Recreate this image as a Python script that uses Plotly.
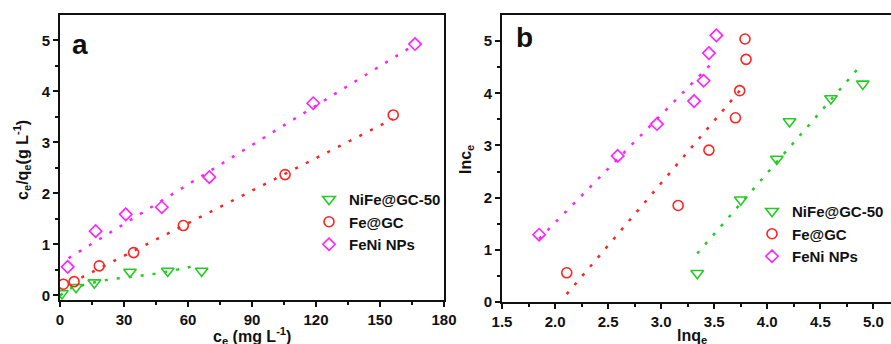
import plotly.graph_objects as go

W, H = 891, 344

# ---------- Panel a data ----------
a_nife_x = [0.9, 7.5, 16.1, 32.8, 50.5, 66.4]
a_nife_y = [0.04, 0.16, 0.25, 0.46, 0.48, 0.48]
a_fe_x = [1.6, 6.6, 18.4, 34.5, 57.8, 105.5, 156.2]
a_fe_y = [0.22, 0.27, 0.58, 0.84, 1.37, 2.37, 3.54]
a_feni_x = [3.6, 16.7, 30.8, 47.7, 70.0, 118.7, 166.4]
a_feni_y = [0.56, 1.26, 1.59, 1.73, 2.32, 3.77, 4.93]
# fit lines
a_nife_fit_x = [0, 5, 10.6, 21.4, 34.4, 45.3, 56.7, 62.5]
a_nife_fit_y = [0.0, 0.14, 0.20, 0.30, 0.37, 0.43, 0.52, 0.575]
a_fe_fit_x = [10, 156]
a_fe_fit_y = [0.35, 3.46]
a_feni_fit_x = [4, 166]
a_feni_fit_y = [0.73, 4.91]

# ---------- Panel b data ----------
b_nife_x = [3.34, 3.75, 4.09, 4.21, 4.60, 4.90]
b_nife_y = [0.55, 1.96, 2.74, 3.46, 3.90, 4.18]
b_fe_x = [2.11, 3.16, 3.45, 3.70, 3.74, 3.80, 3.79]
b_fe_y = [0.56, 1.85, 2.91, 3.53, 4.05, 4.65, 5.04]
b_feni_x = [1.85, 2.59, 2.96, 3.31, 3.40, 3.45, 3.52]
b_feni_y = [1.29, 2.80, 3.41, 3.85, 4.24, 4.77, 5.11]
b_nife_fit_x = [3.34, 4.85]
b_nife_fit_y = [0.93, 4.46]
b_fe_fit_x = [2.11, 3.77]
b_fe_fit_y = [0.15, 4.12]
b_feni_fit_x = [1.85, 3.47]
b_feni_fit_y = [1.21, 4.56]

names = ["NiFe@GC-50", "Fe@GC", "FeNi NPs"]
colors = ["#22CC22", "#FF2222", "#FF22FF"]
symbols = ["triangle-down-open", "circle-open", "diamond-open"]
sizes = [11, 10, 9.5]

FONT = "Liberation Sans"
fig = go.Figure()

def add_panel(xs, ys, fxs, fys, xa, ya, legend):
    for i in range(3):
        shape = "spline" if (legend == "legend" and i == 0) else "linear"
        fig.add_trace(go.Scatter(
            x=fxs[i], y=fys[i], mode="lines", xaxis=xa, yaxis=ya,
            line=dict(color=colors[i], width=2.5, dash="3px,9px", shape=shape),
            showlegend=False, hoverinfo="skip"))
    for i in range(3):
        fig.add_trace(go.Scatter(
            x=xs[i], y=ys[i], mode="markers", name=names[i], xaxis=xa, yaxis=ya,
            legend=legend,
            marker=dict(symbol=symbols[i], size=sizes[i], color=colors[i],
                        line=dict(width=1.6, color=colors[i]))))

add_panel([a_nife_x, a_fe_x, a_feni_x], [a_nife_y, a_fe_y, a_feni_y],
          [a_nife_fit_x, a_fe_fit_x, a_feni_fit_x], [a_nife_fit_y, a_fe_fit_y, a_feni_fit_y],
          "x", "y", "legend")
add_panel([b_nife_x, b_fe_x, b_feni_x], [b_nife_y, b_fe_y, b_feni_y],
          [b_nife_fit_x, b_fe_fit_x, b_feni_fit_x], [b_nife_fit_y, b_fe_fit_y, b_feni_fit_y],
          "x2", "y2", "legend2")

def px_x(p):
    return p / W

def px_y(p):
    return (H - p) / H

tickfont = dict(family=FONT, size=15, color="#111111", weight="bold")
common = dict(showline=True, linecolor="#111111", linewidth=2, ticks="outside",
              ticklen=5, tickwidth=1.5, tickcolor="#111111", showgrid=False,
              zeroline=False, tickfont=tickfont, automargin=False)
minor_common = dict(ticklen=3, tickwidth=1.5, tickcolor="#111111", ticks="outside")

fig.update_layout(
    width=W, height=H, margin=dict(l=0, r=0, t=0, b=0, autoexpand=False),
    paper_bgcolor="white", plot_bgcolor="white",
    xaxis=dict(domain=[px_x(60), px_x(444)], range=[0, 180], tickvals=[0, 30, 60, 90, 120, 150, 180],
               anchor="y", mirror=True,
               minor=dict(tickvals=[15, 45, 75, 105, 135, 165], **minor_common),
               **common),
    yaxis=dict(domain=[px_y(300), px_y(15)], range=[-0.09, 5.5], tickvals=[0, 1, 2, 3, 4, 5],
               anchor="x", mirror=True,
               minor=dict(tickvals=[0.5, 1.5, 2.5, 3.5, 4.5], **minor_common),
               **common),
    xaxis2=dict(domain=[px_x(502), 1.0], range=[1.5, 5.166], tickvals=[1.5, 2.0, 2.5, 3.0, 3.5, 4.0, 4.5, 5.0],
                ticktext=["1.5", "2.0", "2.5", "3.0", "3.5", "4.0", "4.5", "5.0"],
                anchor="y2", mirror=True,
                minor=dict(tickvals=[1.75, 2.25, 2.75, 3.25, 3.75, 4.25, 4.75], **minor_common),
                **common),
    yaxis2=dict(domain=[px_y(302), px_y(15)], range=[0, 5.5], tickvals=[0, 1, 2, 3, 4, 5],
                anchor="x2", mirror=False,
                minor=dict(tickvals=[0.5, 1.5, 2.5, 3.5, 4.5], **minor_common),
                **common),
    legend=dict(x=px_x(309), y=px_y(183), xanchor="left", yanchor="top",
                bgcolor="rgba(0,0,0,0)", font=dict(family=FONT, size=15, color="#111111", weight="bold"),
                tracegroupgap=0, itemwidth=30),
    legend2=dict(x=px_x(752), y=px_y(195), xanchor="left", yanchor="top",
                 bgcolor="rgba(0,0,0,0)", font=dict(family=FONT, size=15, color="#111111", weight="bold"),
                 tracegroupgap=0, itemwidth=30),
    showlegend=True,
)

ann_font = dict(family=FONT, size=16, color="#111111", weight="bold")
def ann(text, x, y, font, angle=0):
    fig.add_annotation(text=text, x=px_x(x), y=px_y(y), xref="paper", yref="paper",
                       xanchor="center", yanchor="middle", showarrow=False,
                       textangle=angle, font=font)

label_font = dict(family=FONT, size=28, color="#111111", weight="bold")
ann("a", 80, 44, label_font)
ann("b", 524, 38, label_font)
ann("c<sub>e</sub>/q<sub>e</sub>(g L<sup>-1</sup>)", 22, 160, ann_font, -90)
ann("c<sub>e</sub> (mg L<sup>-1</sup>)", 252, 336, ann_font)
ann("lnc<sub>e</sub>", 466, 159, ann_font, -90)
ann("lnq<sub>e</sub>", 692, 336, ann_font)

fig.write_html("out.html", config={"displayModeBar": False},
               post_script="document.body.style.margin='0px';")
